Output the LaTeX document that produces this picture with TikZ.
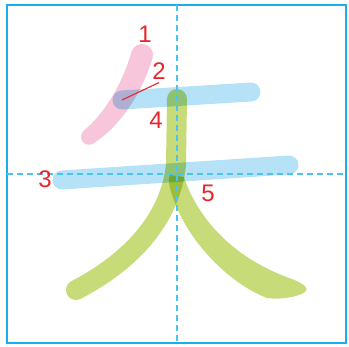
\documentclass[tikz,border=0pt]{standalone}
\usepackage{fontspec}
\setmainfont{Liberation Sans}
\usetikzlibrary{positioning}
\definecolor{frameblue}{HTML}{1CAEEA}
\definecolor{guide}{HTML}{4CC3F0}
\definecolor{ordred}{HTML}{E8262C}
\definecolor{pinkink}{HTML}{F7C6DA}
\definecolor{blueink}{HTML}{B5E2F7}
\definecolor{greenink}{HTML}{C7DC79}
\tikzset{
  framebox/.style={draw=frameblue,line width=2.2pt},
  guideline/.style={draw=guide,line width=1.3pt,dash pattern=on 6pt off 4pt},
  brush/.style={line width=19pt,line cap=round,line join=round,blend mode=multiply},
  bluebrush/.style={brush,draw=blueink},
  greenbrush/.style={brush,draw=greenink,line width=20pt},
  pinkshape/.style={fill=pinkink,blend mode=multiply},
  greenshape/.style={fill=greenink,blend mode=multiply},
  order/.style={text=ordred,font=\fontsize{24}{24}\selectfont,inner sep=0pt},
  leader/.style={draw=ordred,line width=1.1pt},
}

\begin{document}
\begin{tikzpicture}[x=1pt,y=-1pt]
\useasboundingbox (0,0) rectangle (349,347);

% stroke ends
\coordinate (s2a) at (122,100);
\coordinate (s2b) at (251,92);
\coordinate (s3a) at (62,180);
\coordinate (s3b) at (289,165);
\coordinate (s4a) at (177,99);
\coordinate (s4b) at (176,165);
\coordinate (s4c) at (76,290);

% strokes
\path[pinkshape] (131.6,51.5) arc[start angle=198,end angle=378,radius=11]
  .. controls (143,90) and (122,125) .. (94,143)
  arc[start angle=51,end angle=231,radius=8]
  .. controls (106,112) and (123,82) .. (131.6,51.5) -- cycle;
\draw[bluebrush] (s2a) -- (s2b);
\draw[bluebrush] (s3a) -- (s3b);
\draw[greenbrush] (s4a) -- (s4b) .. controls (170,220) and (130,262) .. (s4c);
\path[greenshape] (170,175) -- (184,177)
  .. controls (196,214) and (229,257) .. (292,279)
  .. controls (302,283) and (310,288) .. (305,292)
  .. controls (298,297) and (280,300) .. (267,298)
  .. controls (230,284) and (190,243) .. (175,203)
  .. controls (171,192) and (167,182) .. (170,175) -- cycle;

% frame and guides
\draw[framebox] (7,5) rectangle (346,343);
\draw[guideline] (177,5) -- (177,343);
\draw[guideline] (7,174) -- (346,174);

% order numbers
\node[order] (n1) at (145,34) {1};
\node[order] (n2) at (159,71) {2};
\node[order] (n3) at (45,179) {3};
\node[order] (n4) at (156,120) {4};
\node[order] (n5) at (208,193) {5};
\draw[leader] ([yshift=-3pt]n2.south) -- (s2a);

\end{tikzpicture}
\end{document}
